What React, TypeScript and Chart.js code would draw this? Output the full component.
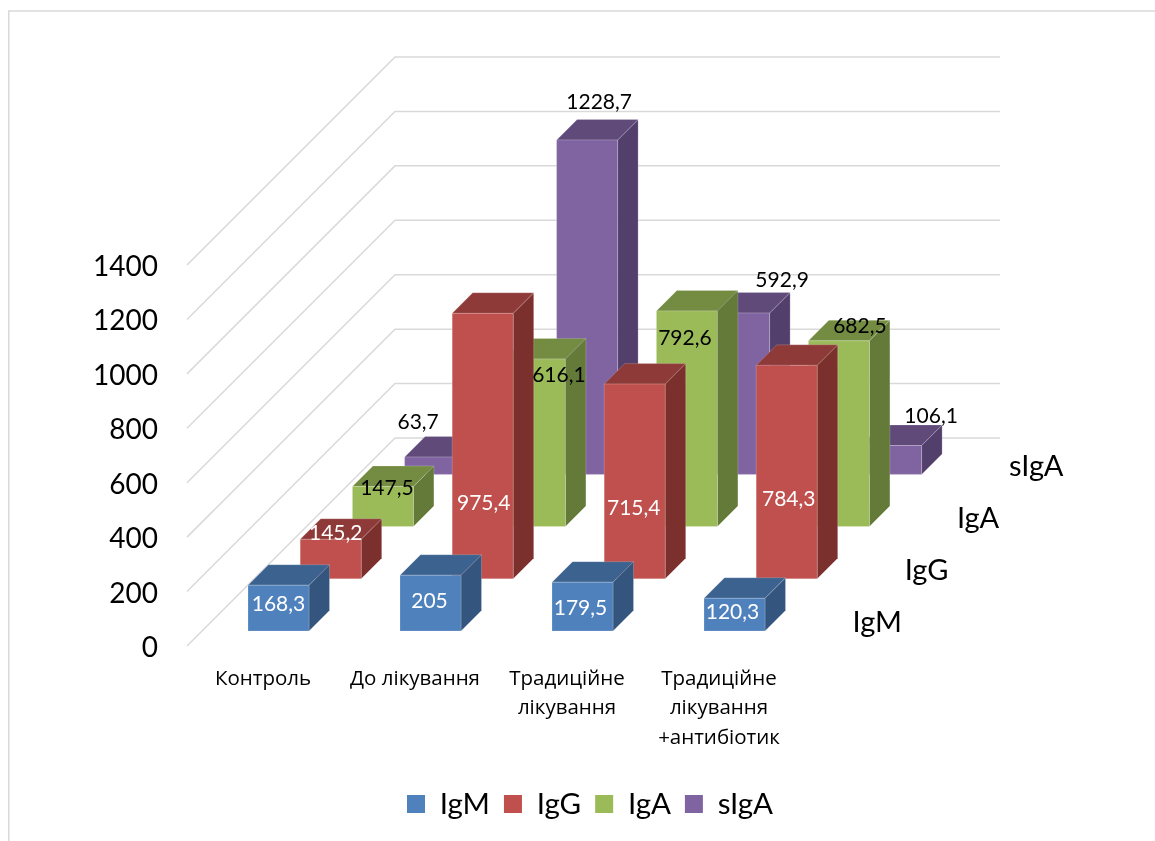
import React, { useEffect, useRef } from "react";
import { Chart, registerables } from "chart.js";

Chart.register(...registerables);

const categories = [
  "Контроль",
  "До лікування",
  ["Традиційне", "лікування"],
  ["Традиційне", "лікування", "+антибіотик"],
];
const seriesNames = ["IgM", "IgG", "IgA", "sIgA"];
const igM = [168.3, 205, 179.5, 120.3];
const igG = [145.2, 975.4, 715.4, 784.3];
const igA = [147.5, 616.1, 792.6, 682.5];
const sIgA = [63.7, 1228.7, 592.9, 106.1];

const FONT = "Lato, 'Open Sans', sans-serif";
const LABEL_FONT = "'Open Sans', sans-serif";

const frontColors = ["#4F81BD", "#C0504D", "#9BBB59", "#8064A2"];
const topColors = ["#3C638F", "#8E3A38", "#748C42", "#604A7A"];
const sideColors = ["#34557E", "#7C302E", "#647A38", "#533F6B"];
const labelColors = ["#FFFFFF", "#FFFFFF", "#000000", "#000000"];

// Oblique projection of the depth axis, in canvas pixels.
const FRONT_GAP = { x: 15.5, y: 15 };
const SERIES_STEP = 52.2;
const BOX_DEPTH = 20.5;
const WALL_DEPTH = 208;
const WALL_END = 1000;

// Where each value label sits, relative to the top centre of its bar's front face.
const labelNudges = [
  [[0, 19], [-1, 26], [-2, 26], [-2, 14]],
  [[5, -6], [1, 190], [-1, 124], [2, 134]],
  [[4, 2], [24, 16], [-2, 27], [21, -15]],
  [[-17, -35], [12, -38], [43, -33], [40, -29]],
];

const polygon = (ctx: CanvasRenderingContext2D, pts: number[][], fill: string) => {
  ctx.beginPath();
  pts.forEach(([x, y], i) => (i ? ctx.lineTo(x, y) : ctx.moveTo(x, y)));
  ctx.closePath();
  ctx.fillStyle = fill;
  ctx.fill();
  // A faint pale rim softens each face edge.
  ctx.strokeStyle = "rgba(255,255,255,0.18)";
  ctx.lineWidth = 1;
  ctx.stroke();
};

const scene3d = {
  id: "scene3d",
  beforeDraw(chart: any) {
    // Outer chart-area border: only the top and left edges fall inside the canvas.
    const { ctx, width, height } = chart;
    ctx.save();
    ctx.strokeStyle = "#D9D9D9";
    ctx.lineWidth = 1.5;
    ctx.beginPath();
    ctx.moveTo(8.75, height);
    ctx.lineTo(8.75, 11);
    ctx.lineTo(width, 11);
    ctx.stroke();
    ctx.restore();
  },
  afterLayout(chart: any) {
    const legend = chart.legend;
    legend.left = 0;
    legend.right = 1180;
    legend.width = 1180;
    const h = legend.height;
    legend.top = 802 - h / 2;
    legend.bottom = legend.top + h;
  },
  beforeDatasetsDraw(chart: any) {
    const { ctx, scales, chartArea } = chart;
    const yScale = scales.y;
    ctx.save();

    // Side and back walls: one bent gridline per y-axis tick.
    ctx.strokeStyle = "#D9D9D9";
    ctx.lineWidth = 1.5;
    yScale.ticks.forEach((t: any) => {
      const y = yScale.getPixelForValue(t.value);
      ctx.beginPath();
      ctx.moveTo(chartArea.left, y);
      ctx.lineTo(chartArea.left + WALL_DEPTH, y - WALL_DEPTH);
      ctx.lineTo(WALL_END, y - WALL_DEPTH);
      ctx.stroke();
    });

    // Rows are painted from the back of the floor to the front.
    for (let s = chart.data.datasets.length - 1; s >= 0; s--) {
      const meta = chart.getDatasetMeta(s);
      const dx = FRONT_GAP.x + SERIES_STEP * s;
      const dy = FRONT_GAP.y + SERIES_STEP * s;
      meta.data.forEach((bar: any) => {
        const l = bar.x - bar.width / 2 + dx;
        const r = bar.x + bar.width / 2 + dx;
        const t = bar.y - dy;
        const b = bar.base - dy;
        const d = BOX_DEPTH;
        polygon(ctx, [[r, t], [r + d, t - d], [r + d, b - d], [r, b]], sideColors[s]);
        polygon(ctx, [[l, t], [l + d, t - d], [r + d, t - d], [r, t]], topColors[s]);
        polygon(ctx, [[l, t], [r, t], [r, b], [l, b]], frontColors[s]);
      });
    }

    // Value labels go over every box.
    ctx.font = `21px ${FONT}`;
    ctx.textAlign = "center";
    ctx.textBaseline = "middle";
    chart.data.datasets.forEach((ds: any, s: number) => {
      const meta = chart.getDatasetMeta(s);
      const dx = FRONT_GAP.x + SERIES_STEP * s;
      const dy = FRONT_GAP.y + SERIES_STEP * s;
      meta.data.forEach((bar: any, i: number) => {
        const [nx, ny] = labelNudges[s][i];
        ctx.fillStyle = labelColors[s];
        ctx.fillText(String(ds.data[i]).replace(".", ","), bar.x + dx + nx, bar.y - dy + ny);
      });
    });

    // Series names along the depth axis.
    ctx.font = `29px ${FONT}`;
    ctx.textAlign = "left";
    ctx.fillStyle = "#000000";
    seriesNames.forEach((name, s) => {
      ctx.fillText(
        name,
        chartArea.right + FRONT_GAP.x + 42 + SERIES_STEP * s,
        chartArea.bottom - FRONT_GAP.y - 8 - SERIES_STEP * s
      );
    });
    ctx.restore();
    return false;
  },
};

export default function App() {
  const ref = useRef<HTMLCanvasElement>(null);

  useEffect(() => {
    const values = [igM, igG, igA, sIgA];
    const chart = new Chart(ref.current!, {
      type: "bar",
      plugins: [scene3d],
      data: {
        labels: categories,
        datasets: seriesNames.map((label, s) => ({
          label,
          data: values[s],
          backgroundColor: frontColors[s],
          grouped: false,
          barPercentage: 61 / 152,
          categoryPercentage: 1,
        })),
      },
      options: {
        responsive: false,
        animation: false,
        layout: { autoPadding: false, padding: { top: 265, right: 360, left: 0, bottom: 0 } },
        plugins: {
          tooltip: { enabled: false },
          legend: {
            position: "bottom",
            onClick: () => {},
            labels: {
              boxWidth: 18,
              boxHeight: 18,
              padding: 14,
              color: "#000000",
              font: { family: FONT, size: 29.5 },
            },
          },
        },
        scales: {
          x: {
            grid: { display: false },
            border: { display: false },
            afterFit(scale: any) {
              scale.height = 841 - 646 - scale.chart.legend.height;
            },
            ticks: {
              maxRotation: 0,
              autoSkip: false,
              padding: 10,
              color: "#000000",
              font: { family: LABEL_FONT, size: 20.5, lineHeight: 29.5 / 20.5 },
            },
          },
          y: {
            min: 0,
            max: 1400,
            grid: { display: false },
            border: { display: false },
            afterFit(scale: any) {
              scale.width = 187;
            },
            ticks: {
              stepSize: 200,
              padding: 21,
              labelOffset: 2,
              color: "#000000",
              font: { family: FONT, size: 28 },
              callback: (v: number) => String(v),
            },
          },
        },
      },
    } as any);
    return () => chart.destroy();
  }, []);

  return (
    <canvas
      ref={ref}
      width={1155}
      height={841}
      style={{ position: "absolute", left: 0, top: 0, display: "block" }}
    />
  );
}
